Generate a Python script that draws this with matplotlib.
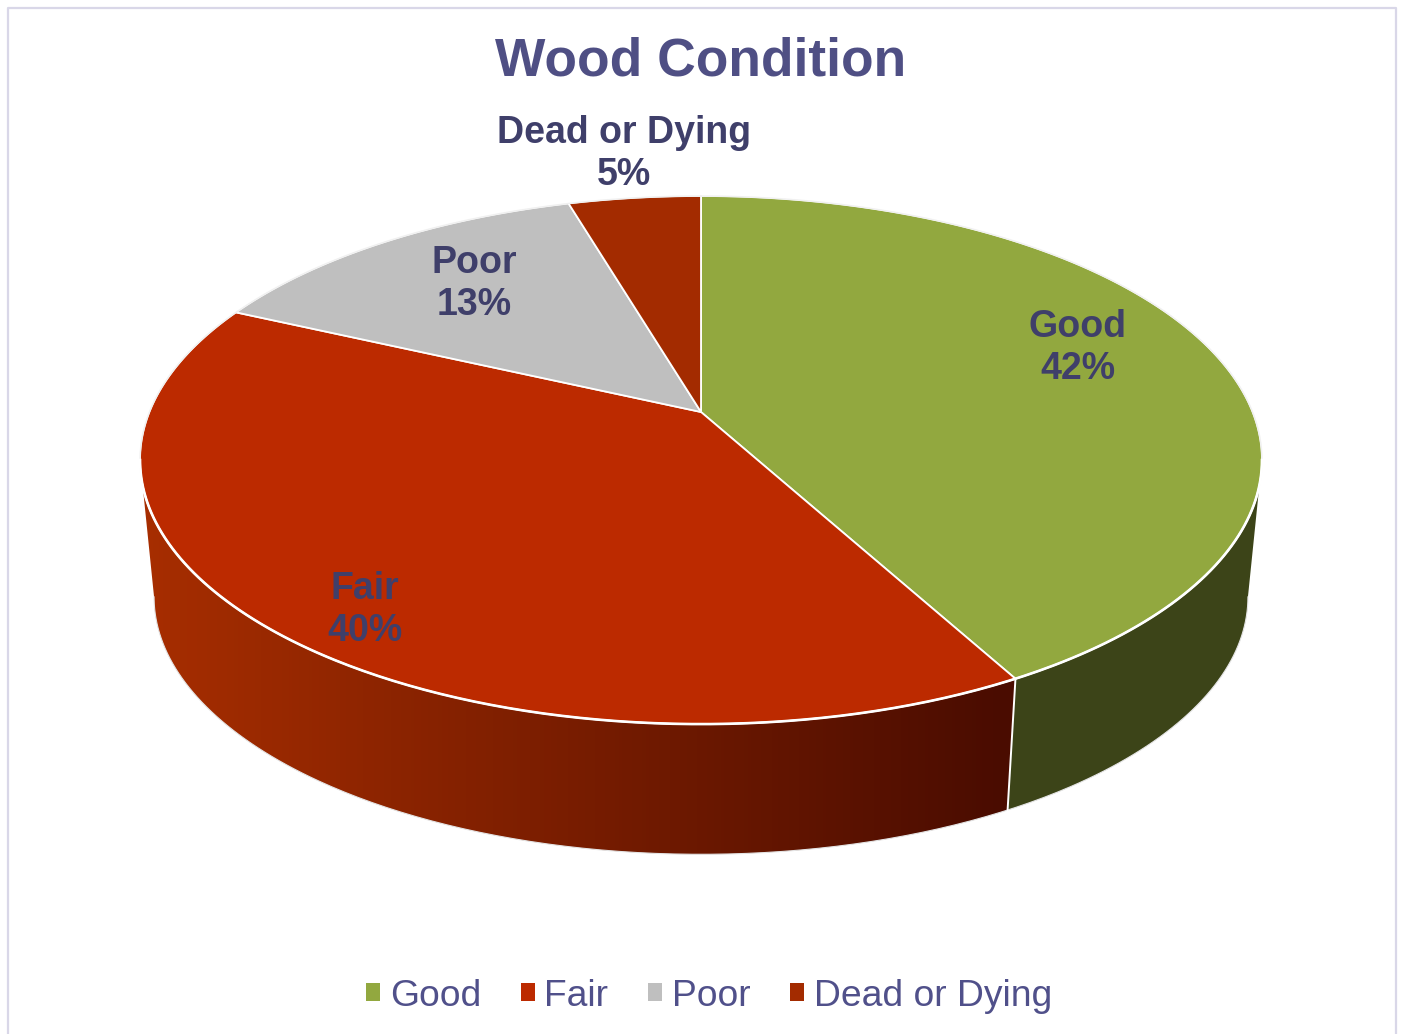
import numpy as np
import matplotlib
matplotlib.use("Agg")
import matplotlib.pyplot as plt
from matplotlib.colors import LinearSegmentedColormap
from matplotlib.patches import Polygon, Patch

categories = ["Good", "Fair", "Poor", "Dead or Dying"]
shares = [42.05, 39.85, 13.55, 4.55]
shown_pct = [42, 40, 13, 5]
top_colors = ["#92A83F", "#BC2A00", "#BFBFBF", "#A32B00"]
wall_left = ["#3C4418", "#A82E00", "#808080", "#6E1D00"]
wall_right = ["#3C4418", "#4A0C00", "#808080", "#6E1D00"]
label_xy = [(1078, 348), (365, 610), (474, 284), (624, 154)]

TITLE_C = "#4F4F84"
LABEL_C = "#3F3F6A"
LEGEND_C = "#50508A"
FONT = "Liberation Sans"

# projection of the unit disc, pixel units
CX, CY, A, B, K = 701.0, 412.0, 551.6, 255.3, 0.182
DROP, SHRINK = 138.0, 0.975


def top(theta):
    u, v = np.sin(theta), np.cos(theta)
    d = 1 + K * v
    return CX + A * u / d, CY - B * v / d


def low(theta):
    u, v = np.sin(theta), np.cos(theta)
    d = 1 + K * v
    return CX + SHRINK * A * u / d, CY + DROP - SHRINK * B * v / d


fig = plt.figure(figsize=(14.01, 10.34), dpi=100)
ax = fig.add_axes([0, 0, 1, 1])

# frame
ax.plot([7.5, 7.5, 1395.5, 1395.5], [1034, 7.5, 7.5, 1034], color="#D9D7E8", lw=1.6, zorder=1)

edges = 2 * np.pi * np.concatenate([[0], np.cumsum(shares)]) / sum(shares)

# silhouette angles of the side wall
t_a = np.arccos(-K)
t_b = 2 * np.pi - t_a

for i in range(4):
    lo, hi = max(edges[i], t_a), min(edges[i + 1], t_b)
    if hi <= lo:
        continue
    t = np.linspace(lo, hi, 300)
    xt, yt = top(t)
    xl, yl = low(t)
    pts = np.column_stack([np.r_[xt, xl[::-1]], np.r_[yt, yl[::-1]]])
    wall = Polygon(pts, closed=True, facecolor="none", edgecolor="none", zorder=2)
    ax.add_patch(wall)
    cmap = LinearSegmentedColormap.from_list("wall", [wall_left[i], wall_right[i]])
    img = ax.imshow(np.linspace(0, 1, 256)[None, :], cmap=cmap, aspect="auto", zorder=2.1,
                    extent=(130, 1280, 900, 400), interpolation="bilinear",
                    vmin=0, vmax=0.76)
    img.set_clip_path(wall)

# light lower outline of the walls
t = np.linspace(t_a, t_b, 300)
ax.plot(*low(t), color="#E4E4E4", lw=0.8, zorder=2.5)

# white seam between the two visible walls
seam = np.array([edges[1]])
ax.plot([top(seam)[0][0], low(seam)[0][0]], [top(seam)[1][0], low(seam)[1][0]], color="white", lw=1.4, zorder=3)

# top faces
for i in range(4):
    t = np.linspace(edges[i], edges[i + 1], max(8, int(shares[i] * 8)))
    xt, yt = top(t)
    pts = np.column_stack([np.r_[CX, xt], np.r_[CY, yt]])
    ax.add_patch(Polygon(pts, closed=True, facecolor=top_colors[i], edgecolor="white", lw=1.3,
                         joinstyle="round", zorder=4))
t = np.linspace(0, 2 * np.pi, 500)
ax.plot(*top(t), color="#F0F0F0", lw=1.0, zorder=4.5)
t = np.linspace(t_a, t_b, 300)
ax.plot(*top(t), color="white", lw=1.9, zorder=4.6)

# labels
for name, pct, (lx, ly) in zip(categories, shown_pct, label_xy):
    ax.text(lx, ly, f"{name}\n{pct}%", ha="center", va="center", color=LABEL_C, family=FONT,
            fontweight="bold", fontsize=27, linespacing=1.23, zorder=6)

ax.text(701, 62, "Wood Condition", ha="center", va="center", color=TITLE_C, family=FONT,
        fontweight="bold", fontsize=38.4, zorder=6)

ax.set_xlim(0, 1401)
ax.set_ylim(1034, 0)
ax.axis("off")

handles = [Patch(facecolor=c, edgecolor="none") for c in top_colors]
leg = ax.legend(handles, categories, ncol=4, loc="center", bbox_to_anchor=(708.9 / 1401, 1 - 996 / 1034),
                frameon=False, handlelength=0.38, handleheight=0.38, handletextpad=0.26, columnspacing=1.06,
                prop={"family": FONT, "size": 26.8}, labelcolor=LEGEND_C)

fig.savefig("out.png", dpi=100, facecolor="white")
